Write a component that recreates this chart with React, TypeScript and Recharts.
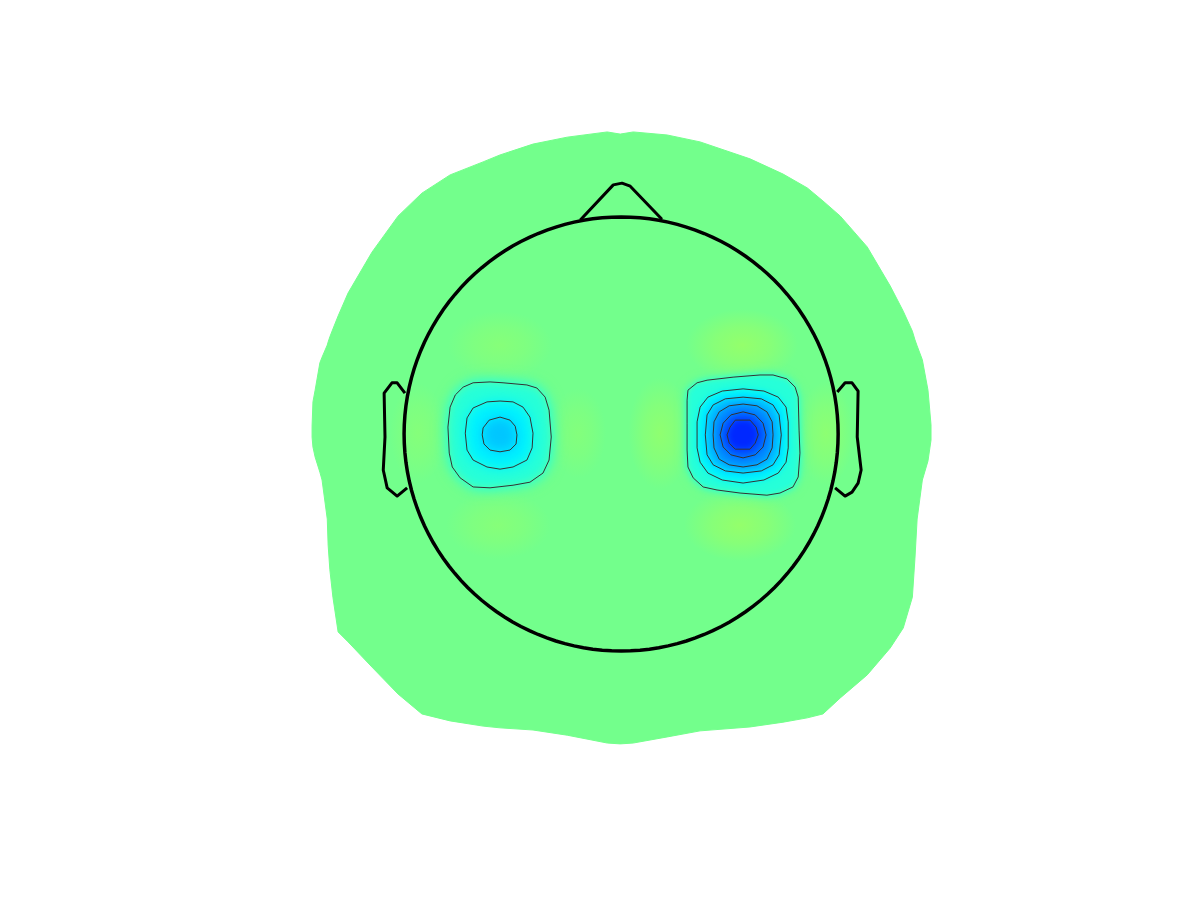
import React from "react";
import { ScatterChart, Scatter, XAxis, YAxis, Curve } from "recharts";

type Pt = [number, number];

// head coordinates: nose up, head radius = 0.5
const HEAD_RADIUS = 0.5;
const X_DOMAIN: [number, number] = [-1.431, 1.336];
const Y_DOMAIN: [number, number] = [-1.076, 1.0];

// edge of the interpolated map
const MAP_OUTLINE: Pt[] = [
  [-0.712, 0.018], [-0.71, 0.074], [-0.705, 0.101], [-0.694, 0.164], [-0.689, 0.177],
  [-0.677, 0.205], [-0.675, 0.212], [-0.671, 0.224], [-0.664, 0.242], [-0.652, 0.272],
  [-0.629, 0.325], [-0.574, 0.419], [-0.514, 0.502], [-0.459, 0.555], [-0.394, 0.597],
  [-0.318, 0.627], [-0.279, 0.643], [-0.203, 0.668], [-0.124, 0.684], [-0.032, 0.696],
  [-0.002, 0.691], [0.028, 0.696], [0.106, 0.689], [0.182, 0.673], [0.297, 0.634],
  [0.373, 0.599], [0.429, 0.567], [0.465, 0.537], [0.505, 0.502], [0.567, 0.431],
  [0.62, 0.341], [0.65, 0.283], [0.671, 0.237], [0.677, 0.217], [0.682, 0.203],
  [0.694, 0.171], [0.707, 0.101], [0.714, 0.021], [0.714, -0.014], [0.707, -0.062],
  [0.694, -0.106], [0.682, -0.196], [0.677, -0.286], [0.671, -0.376], [0.65, -0.447],
  [0.62, -0.493], [0.567, -0.555], [0.505, -0.608], [0.465, -0.645], [0.429, -0.654],
  [0.373, -0.664], [0.297, -0.675], [0.182, -0.684], [0.106, -0.698], [0.028, -0.712],
  [-0.002, -0.714], [-0.032, -0.712], [-0.124, -0.694], [-0.203, -0.682], [-0.279, -0.677],
  [-0.318, -0.673], [-0.394, -0.661], [-0.459, -0.645], [-0.514, -0.599], [-0.574, -0.537],
  [-0.629, -0.479], [-0.652, -0.456], [-0.664, -0.376], [-0.671, -0.313], [-0.675, -0.256],
  [-0.677, -0.196], [-0.689, -0.106], [-0.694, -0.088], [-0.705, -0.053], [-0.71, -0.03],
  [-0.712, -0.007],
];

const NOSE: Pt[] = [[-0.094, 0.493], [-0.018, 0.574], [0.002, 0.578], [0.021, 0.571], [0.094, 0.495]];

const LEFT_EAR: Pt[] = [
  [-0.498, 0.094], [-0.516, 0.118], [-0.528, 0.118], [-0.546, 0.094], [-0.544, -0.007],
  [-0.548, -0.083], [-0.539, -0.124], [-0.516, -0.143], [-0.493, -0.124],
];

const RIGHT_EAR: Pt[] = [
  [0.498, 0.097], [0.516, 0.118], [0.532, 0.118], [0.546, 0.099], [0.544, -0.007],
  [0.553, -0.083], [0.546, -0.113], [0.532, -0.134], [0.516, -0.143], [0.493, -0.124],
];

// contour levels (jet scale 0..1), outermost first
const LEVELS = [0.4375, 0.3875, 0.3375, 0.2875, 0.2375, 0.1875];
const BG_LEVEL = 0.4875;
const LEFT_MIN = 0.3;
const RIGHT_MIN = 0.14;

const LEFT_C1: Pt[] = [
  [-0.302, 0.12], [-0.341, 0.118], [-0.364, 0.108], [-0.382, 0.09], [-0.394, 0.062],
  [-0.399, 0.016], [-0.396, -0.044], [-0.389, -0.076], [-0.371, -0.101], [-0.341, -0.122],
  [-0.302, -0.124], [-0.249, -0.118], [-0.21, -0.111], [-0.18, -0.09], [-0.166, -0.06],
  [-0.161, -0.007], [-0.166, 0.055], [-0.175, 0.085], [-0.194, 0.106], [-0.217, 0.113],
  [-0.272, 0.118],
];
const LEFT_C2: Pt[] = [
  [-0.279, 0.076], [-0.309, 0.074], [-0.341, 0.06], [-0.355, 0.037], [-0.359, 0.002],
  [-0.355, -0.037], [-0.341, -0.06], [-0.309, -0.076], [-0.279, -0.081], [-0.249, -0.076],
  [-0.217, -0.06], [-0.205, -0.032], [-0.203, 0.002], [-0.21, 0.039], [-0.226, 0.062],
  [-0.249, 0.074],
];
const LEFT_C3: Pt[] = [
  [-0.279, 0.039], [-0.304, 0.032], [-0.318, 0.014], [-0.32, -0.002], [-0.316, -0.023],
  [-0.302, -0.037], [-0.279, -0.041], [-0.256, -0.037], [-0.242, -0.023], [-0.24, -0.002],
  [-0.244, 0.018], [-0.256, 0.032],
];

const RIGHT_C1: Pt[] = [
  [0.152, 0.078], [0.154, 0.101], [0.175, 0.118], [0.198, 0.124], [0.258, 0.131],
  [0.32, 0.136], [0.35, 0.136], [0.382, 0.127], [0.401, 0.108], [0.408, 0.085],
  [0.41, 0.009], [0.412, -0.044], [0.408, -0.099], [0.396, -0.122], [0.366, -0.136],
  [0.336, -0.141], [0.274, -0.136], [0.221, -0.129], [0.189, -0.122], [0.166, -0.101],
  [0.154, -0.076], [0.152, -0.037], [0.152, 0.025],
];
const RIGHT_C2: Pt[] = [
  [0.281, 0.104], [0.233, 0.099], [0.2, 0.085], [0.182, 0.062], [0.175, 0.028],
  [0.175, -0.032], [0.182, -0.065], [0.2, -0.09], [0.233, -0.106], [0.281, -0.113],
  [0.329, -0.106], [0.362, -0.09], [0.38, -0.065], [0.385, -0.032], [0.385, 0.028],
  [0.38, 0.062], [0.362, 0.085], [0.329, 0.099],
];
const RIGHT_C3: Pt[] = [
  [0.281, 0.085], [0.24, 0.081], [0.212, 0.067], [0.198, 0.044], [0.194, -0.002],
  [0.198, -0.048], [0.212, -0.071], [0.24, -0.085], [0.281, -0.09], [0.323, -0.085],
  [0.35, -0.071], [0.364, -0.048], [0.369, -0.002], [0.364, 0.044], [0.35, 0.067],
  [0.323, 0.081],
];
const RIGHT_C4: Pt[] = [
  [0.281, 0.069], [0.249, 0.065], [0.226, 0.051], [0.214, 0.028], [0.212, -0.002],
  [0.214, -0.032], [0.226, -0.058], [0.249, -0.071], [0.281, -0.076], [0.313, -0.071],
  [0.336, -0.058], [0.348, -0.032], [0.35, -0.002], [0.348, 0.028], [0.336, 0.051],
  [0.313, 0.065],
];
const RIGHT_C5: Pt[] = [
  [0.281, 0.051], [0.253, 0.044], [0.235, 0.025], [0.228, -0.002], [0.235, -0.03],
  [0.253, -0.048], [0.281, -0.055], [0.309, -0.048], [0.327, -0.03], [0.334, -0.002],
  [0.327, 0.025], [0.309, 0.044],
];
const RIGHT_C6: Pt[] = [
  [0.263, 0.032], [0.297, 0.032], [0.311, 0.016], [0.316, -0.002], [0.309, -0.021],
  [0.297, -0.035], [0.263, -0.035], [0.249, -0.021], [0.244, -0.002], [0.251, 0.016],
];

// weak positive bumps (no contour)
const PATCHES = [
  { id: 0, x: -0.279, y: 0.205, level: 0.506 },
  { id: 1, x: 0.279, y: 0.205, level: 0.52 },
  { id: 2, x: -0.283, y: -0.21, level: 0.506 },
  { id: 3, x: 0.274, y: -0.21, level: 0.52 },
  { id: 4, x: 0.09, y: 0.002, level: 0.515 },
  { id: 5, x: -0.099, y: 0.002, level: 0.503 },
  { id: 6, x: 0.472, y: 0.002, level: 0.513 },
  { id: 7, x: -0.468, y: 0.002, level: 0.505 },
];
const PATCH_SIZE: Pt[] = [
  [52, 34], [56, 36], [52, 34], [56, 36], [32, 56], [28, 45], [28, 52], [28, 50],
];

function jet(v: number): string {
  const c = (k: number) => Math.round(255 * Math.max(0, Math.min(1, 1.5 - Math.abs(4 * v - k))));
  return `rgb(${c(3)},${c(2)},${c(1)})`;
}

const toXY = (pts: Pt[]) => pts.map(([x, y]) => ({ x, y }));

const HEAD: Pt[] = Array.from({ length: 145 }, (_, i) => {
  const a = (i / 144) * 2 * Math.PI;
  return [HEAD_RADIUS * Math.cos(a), HEAD_RADIUS * Math.sin(a)] as Pt;
});

const BLOBS = [
  { name: "left", contours: [LEFT_C1, LEFT_C2, LEFT_C3], min: LEFT_MIN, blur: "blurL", halo: "haloL" },
  {
    name: "right",
    contours: [RIGHT_C1, RIGHT_C2, RIGHT_C3, RIGHT_C4, RIGHT_C5, RIGHT_C6],
    min: RIGHT_MIN,
    blur: "blurR",
    halo: "haloR",
  },
];

const noDot = () => <g />;

const renderPatch = (props: any) => {
  const id = props.payload.id;
  const [rx, ry] = PATCH_SIZE[id];
  return <ellipse cx={props.cx} cy={props.cy} rx={rx} ry={ry} fill={`url(#patch-${id})`} />;
};

// filled, blurred closed polygon drawn from the scatter's scaled points
const softFill = (color: string, filterId: string) => (p: any) => (
  <g filter={`url(#${filterId})`}>
    <Curve points={p.points} type="linearClosed" fill={color} stroke="none" />
  </g>
);

const blurFilter = (id: string, sd: number) => (
  <filter id={id} x="-60%" y="-60%" width="220%" height="220%" colorInterpolationFilters="sRGB">
    <feGaussianBlur stdDeviation={sd} />
  </filter>
);

export default function App() {
  const halos = BLOBS.map((b) => ({
    key: `${b.name}-halo`,
    data: toXY(b.contours[0]),
    color: jet(LEVELS[0]),
    filter: b.halo,
  }));
  const fills = BLOBS.flatMap((b) =>
    b.contours.map((c, i) => {
      const next = i + 1 < b.contours.length ? LEVELS[i + 1] : b.min;
      return {
        key: `${b.name}-fill-${i}`,
        data: toXY(c),
        color: jet((LEVELS[i] + next) / 2),
        filter: b.blur,
      };
    })
  );
  const lines = BLOBS.flatMap((b) =>
    b.contours.map((c, i) => ({ key: `${b.name}-line-${i}`, data: toXY(c) }))
  );

  return (
    <div style={{ position: "absolute", left: 0, top: 0, width: 1201, height: 901, background: "#fff" }}>
      <ScatterChart width={1201} height={901} margin={{ top: 0, right: 0, bottom: 0, left: 0 }}>
        <defs>
          {blurFilter("blurR", 3)}
          {blurFilter("blurL", 6)}
          {blurFilter("haloR", 6)}
          {blurFilter("haloL", 8)}
          {PATCHES.map((p) => (
            <radialGradient key={p.id} id={`patch-${p.id}`}>
              <stop offset="0%" stopColor={jet(p.level)} stopOpacity={1} />
              <stop offset="50%" stopColor={jet(p.level)} stopOpacity={0.6} />
              <stop offset="100%" stopColor={jet(p.level)} stopOpacity={0} />
            </radialGradient>
          ))}
        </defs>
        <XAxis type="number" dataKey="x" domain={X_DOMAIN} hide allowDataOverflow />
        <YAxis type="number" dataKey="y" domain={Y_DOMAIN} hide allowDataOverflow />

        <Scatter
          data={toXY(MAP_OUTLINE)}
          shape={noDot}
          line={{ fill: jet(BG_LEVEL), stroke: jet(BG_LEVEL), strokeWidth: 1 }}
          lineJointType="linearClosed"
          isAnimationActive={false}
        />
        <Scatter data={PATCHES} shape={renderPatch} isAnimationActive={false} />
        {halos.concat(fills).map((f) => (
          <Scatter
            key={f.key}
            data={f.data}
            shape={noDot}
            line={softFill(f.color, f.filter)}
            isAnimationActive={false}
          />
        ))}
        {lines.map((l) => (
          <Scatter
            key={l.key}
            data={l.data}
            shape={noDot}
            line={{ fill: "none", stroke: "#333", strokeWidth: 1 }}
            lineJointType="linearClosed"
            isAnimationActive={false}
          />
        ))}
        <Scatter
          data={toXY(HEAD)}
          shape={noDot}
          line={{ fill: "none", stroke: "#000", strokeWidth: 3.5 }}
          lineJointType="linearClosed"
          isAnimationActive={false}
        />
        <Scatter
          data={toXY(NOSE)}
          shape={noDot}
          line={{ fill: "none", stroke: "#000", strokeWidth: 3, strokeLinejoin: "round" }}
          lineJointType="linear"
          isAnimationActive={false}
        />
        <Scatter
          data={toXY(LEFT_EAR)}
          shape={noDot}
          line={{ fill: "none", stroke: "#000", strokeWidth: 3, strokeLinejoin: "round" }}
          lineJointType="linear"
          isAnimationActive={false}
        />
        <Scatter
          data={toXY(RIGHT_EAR)}
          shape={noDot}
          line={{ fill: "none", stroke: "#000", strokeWidth: 3, strokeLinejoin: "round" }}
          lineJointType="linear"
          isAnimationActive={false}
        />
      </ScatterChart>
    </div>
  );
}
